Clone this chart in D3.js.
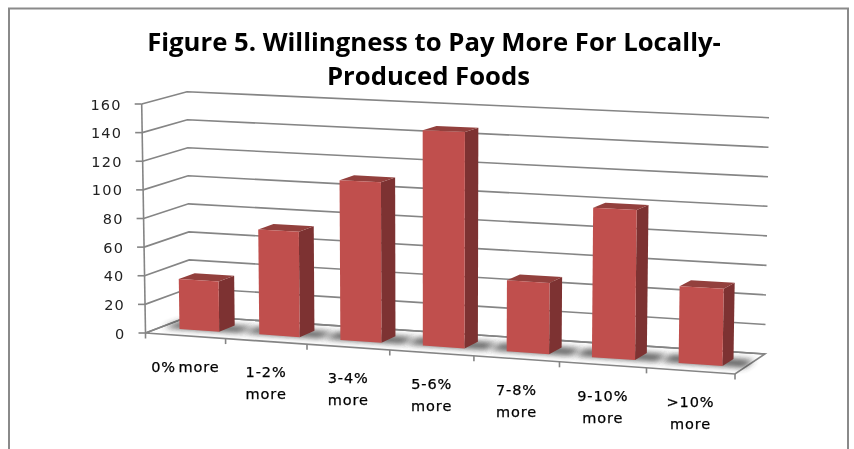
<!DOCTYPE html>
<html><head><meta charset="utf-8">
<script src="https://cdn.jsdelivr.net/npm/d3@7/dist/d3.min.js"></script>
<style>html,body{margin:0;padding:0;background:#fff}svg{display:block}</style>
</head><body><svg id="c" width="854" height="449"></svg>
<script>
const titleLines = ["Figure 5. Willingness to Pay More For Locally-", "Produced Foods"];
const categories = ["0% more", "1-2% more", "3-4% more", "5-6% more", "7-8% more", "9-10% more", ">10% more"];
const categoryLines = [["0% more"], ["1-2%", "more"], ["3-4%", "more"], ["5-6%", "more"], ["7-8%", "more"], ["9-10%", "more"], [">10%", "more"]];
const values = [35, 73, 110, 147, 48, 100, 51];
const valueTicks = [0, 20, 40, 60, 80, 100, 120, 140, 160];

const svg = d3.select("#c");
const defs = svg.append("defs");
defs.append("filter").attr("id", "soft").attr("x", "-5%").attr("y", "-5%").attr("width", "110%").attr("height", "110%")
  .append("feGaussianBlur").attr("stdDeviation", 0.55);
defs.append("filter").attr("id", "shadow").attr("x", "-60%").attr("y", "-100%").attr("width", "220%").attr("height", "300%")
  .append("feGaussianBlur").attr("stdDeviation", 3.2);

// Chart geometry: floor corners and the vertical extent at each corner
const FL = [145.5, 333], FR = [735, 374], BR = [765, 354], BL = [190, 316];
const upFL = [-3.8, -229], upFR = [4, -246], upBR = [4, -236.3], upBL = [-3, -224.3];
const persp = 0.06;

const xBand = d3.scaleBand().domain(categories).range([0, 1]).paddingInner(0.5).paddingOuter(0.25);
const yVal = d3.scaleLinear().domain([0, 160]).range([0, 1]);
const step = xBand.step();
const depthFront = 0.32, depthBack = 0.68;

function P(u, v, val) {
  const s = u / (1 + persp * (1 - u));
  const floor = i => (1 - s) * (1 - v) * FL[i] + s * (1 - v) * FR[i] + s * v * BR[i] + (1 - s) * v * BL[i];
  const up = i => (1 - s) * (1 - v) * upFL[i] + s * (1 - v) * upFR[i] + s * v * upBR[i] + (1 - s) * v * upBL[i];
  const t = yVal(val);
  return [floor(0) + t * up(0), floor(1) + t * up(1)];
}
const poly = pts => "M" + pts.map(p => p.join(",")).join("L") + "Z";
const line = (p, q) => "M" + p.join(",") + "L" + q.join(",");
const root = svg.append("g").attr("filter", "url(#soft)");
const GRID = "#858585", GW = 1.6;

// Chart frame
root.append("path").attr("d", "M9,460V8.5H848V460").attr("fill", "none").attr("stroke", "#8a8a8a").attr("stroke-width", 2);

// Wall gridlines
root.append("g").selectAll("path").data(valueTicks).join("path")
  .attr("fill", "none").attr("stroke", GRID).attr("stroke-width", GW)
  .attr("d", t => "M" + [P(0, 0, t), P(0, 1, t), P(1, 1, t)].map(p => p.join(",")).join("L"));
// Vertical axis and its ticks
root.append("path").attr("d", line(P(0, 0, 0), P(0, 0, 160))).attr("stroke", GRID).attr("stroke-width", GW);
root.append("g").selectAll("path").data(valueTicks).join("path").attr("stroke", GRID).attr("stroke-width", GW)
  .attr("d", t => { const p = P(0, 0, t); return line([p[0] - 7, p[1]], p); });
// Floor outline
root.append("path").attr("d", poly([P(0, 0, 0), P(1, 0, 0), P(1, 1, 0), P(0, 1, 0)]))
  .attr("fill", "none").attr("stroke", GRID).attr("stroke-width", GW);
// Category ticks
root.append("g").selectAll("path").data(d3.range(categories.length + 1)).join("path")
  .attr("stroke", GRID).attr("stroke-width", GW)
  .attr("d", i => { const p = P(i * step, 0, 0); return line(p, [p[0], p[1] + 5.5]); });

// Bars
const bars = root.append("g").selectAll("g").data(categories).join("g");
bars.append("path").attr("fill", "#3c3c3c").attr("opacity", 0.9).attr("filter", "url(#shadow)")
  .attr("d", c => {
    const u0 = xBand(c) - 0.03, u1 = xBand(c) + xBand.bandwidth() + 0.034;
    return poly([P(u0, depthFront + 0.02, 0), P(u1, depthFront + 0.02, 0), P(u1, depthBack, 0), P(u0, depthBack, 0)]);
  });
bars.each(function (c, i) {
  const u0 = xBand(c), u1 = u0 + xBand.bandwidth(), val = values[i], s = d3.select(this);
  s.append("path").attr("fill", "#7d3230")
    .attr("d", poly([P(u1, depthFront, 0), P(u1, depthBack, 0), P(u1, depthBack, val), P(u1, depthFront, val)]));
  s.append("path").attr("fill", "#93403d")
    .attr("d", poly([P(u0, depthFront, val), P(u1, depthFront, val), P(u1, depthBack, val), P(u0, depthBack, val)]));
  s.append("path").attr("fill", "#c0504d")
    .attr("d", poly([P(u0, depthFront, 0), P(u1, depthFront, 0), P(u1, depthFront, val), P(u0, depthFront, val)]));
});

// Text
const text = svg.append("g").attr("filter", "url(#soft)");
text.selectAll(".title").data(titleLines).join("text").attr("class", "title")
  .attr("x", (l, i) => i ? 428.5 : 434).attr("y", (l, i) => 51 + i * 34).attr("text-anchor", "middle")
  .attr("font-family", "Open Sans").attr("font-weight", 700).attr("font-size", 25.7).attr("fill", "#000").text(l => l);
text.selectAll(".val").data(valueTicks).join("text").attr("class", "val")
  .attr("x", t => P(0, 0, t)[0] - 20).attr("y", t => P(0, 0, t)[1] + 5.5)
  .attr("text-anchor", "end").attr("letter-spacing", 1.2)
  .attr("font-family", "DejaVu Sans").attr("font-size", 14.5).attr("fill", "#222").text(t => t);
const cats = text.selectAll(".cat").data(categories).join("text").attr("class", "cat")
  .attr("text-anchor", "middle").attr("font-family", "DejaVu Sans").attr("font-size", 14.5)
  .attr("letter-spacing", 0.9).attr("word-spacing", -3)
  .attr("fill", "#000").attr("stroke", "#000").attr("stroke-width", 0.25);
cats.each(function (c, i) {
  const p = P(xBand(c) + xBand.bandwidth() / 2, 0, 0);
  d3.select(this).selectAll("tspan").data(categoryLines[i]).join("tspan")
    .attr("x", p[0]).attr("y", (l, j) => p[1] + 36 + j * 22).text(l => l);
});
</script></body></html>
